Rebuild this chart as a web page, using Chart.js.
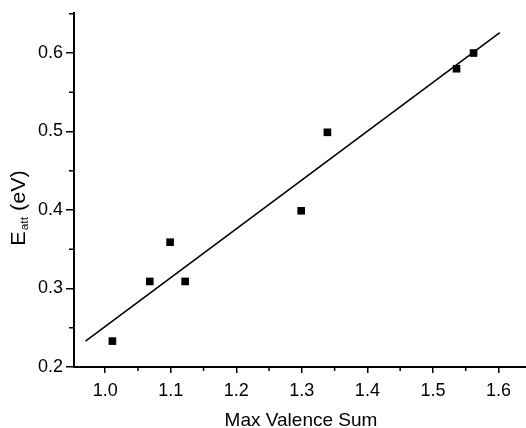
<!DOCTYPE html>
<html>
<head>
<meta charset="utf-8">
<script src="https://cdn.jsdelivr.net/npm/chart.js@4"></script>
<style>
  html, body { margin: 0; padding: 0; background: #fff; }
  #wrap { width: 526px; height: 428px; }
</style>
</head>
<body>
<div id="wrap"><canvas id="chart" width="526" height="428"></canvas></div>
<script>
// data
const valenceSum = [1.011, 1.068, 1.099, 1.122, 1.299, 1.339, 1.536, 1.562];
const eAtt = [0.233, 0.309, 0.359, 0.309, 0.399, 0.499, 0.58, 0.60];
const fitX = [0.970, 1.602];
const fitY = [0.233, 0.626];
const xTickLabels = ['1.0', '1.1', '1.2', '1.3', '1.4', '1.5', '1.6'];
const yTickLabels = ['0.2', '0.3', '0.4', '0.5', '0.6'];

const FONT = '"Liberation Sans", Arial, sans-serif';
const isMajor = v => Math.abs(v * 10 - Math.round(v * 10)) < 1e-6;
const isStep = v => Math.abs(v * 20 - Math.round(v * 20)) < 1e-6;
const fmt = v => v.toFixed(1);

// minor ticks (shorter) + y title with subscript + x title
const extras = {
    id: 'extras',
    afterDraw(chart) {
        const { ctx, scales: { x, y } } = chart;
        ctx.save();
        ctx.strokeStyle = '#000';
        ctx.lineWidth = 1.5;
        x.ticks.forEach(t => {
            if (isMajor(t.value) || !isStep(t.value)) return;
            const px = x.getPixelForValue(t.value);
            ctx.beginPath(); ctx.moveTo(px, x.top); ctx.lineTo(px, x.top + 4); ctx.stroke();
        });
        y.ticks.forEach(t => {
            if (isMajor(t.value) || !isStep(t.value)) return;
            const py = y.getPixelForValue(t.value);
            ctx.beginPath(); ctx.moveTo(y.right, py); ctx.lineTo(y.right - 5, py); ctx.stroke();
        });

        ctx.fillStyle = '#000';
        // x title
        ctx.font = `19px ${FONT}`;
        ctx.textAlign = 'center';
        ctx.textBaseline = 'alphabetic';
        ctx.fillText('Max Valence Sum', 301, 426);

        // y title "E_att (eV)"
        ctx.textAlign = 'left';
        const big = `20px ${FONT}`, small = `11px ${FONT}`;
        ctx.font = big; const wE = ctx.measureText('E').width; const wRest = ctx.measureText(' (eV)').width;
        ctx.font = small; const wSub = ctx.measureText('att').width;
        const total = wE + 1 + wSub + wRest;
        ctx.translate(25, 208);
        ctx.rotate(-Math.PI / 2);
        ctx.scale(1.08, 1);
        let cx = -total / 2;
        ctx.font = big; ctx.fillText('E', cx, 0); cx += wE + 1;
        ctx.font = small; ctx.fillText('att', cx, 3); cx += wSub;
        ctx.font = big; ctx.fillText(' (eV)', cx, 0);
        ctx.restore();
    }
};

new Chart(document.getElementById('chart'), {
    type: 'scatter',
    data: {
        datasets: [
            {
                label: 'data',
                data: valenceSum.map((v, i) => ({ x: v, y: eAtt[i] })),
                pointStyle: 'rect',
                pointRadius: 5.4,
                backgroundColor: '#000',
                borderWidth: 0,
                showLine: false
            },
            {
                label: 'fit',
                data: fitX.map((v, i) => ({ x: v, y: fitY[i] })),
                showLine: true,
                borderColor: '#000',
                borderWidth: 1.6,
                pointRadius: 0
            }
        ]
    },
    options: {
        responsive: false,
        animation: false,
        layout: { autoPadding: false, padding: { top: 13, right: 0, left: 0, bottom: 0 } },
        plugins: { legend: { display: false }, tooltip: { enabled: false } },
        scales: {
            x: {
                type: 'linear',
                min: 0.9524, max: 1.642,
                afterFit: s => { s.height = 61; s.paddingLeft = 0; s.paddingRight = 0; },
                border: { color: '#000', width: 2 },
                grid: {
                    drawOnChartArea: false, drawTicks: true, tickLength: 6, lineWidth: 1.5,
                    color: c => (c.tick && isMajor(c.tick.value) ? '#000' : 'rgba(0,0,0,0)')
                },
                ticks: {
                    stepSize: 0.05, includeBounds: false, padding: 7, color: '#000', maxRotation: 0, autoSkip: false,
                    font: { family: FONT, size: 18 },
                    callback: v => (isMajor(v) && xTickLabels.includes(fmt(v)) ? fmt(v) : '')
                }
            },
            y: {
                type: 'linear',
                min: 0.2, max: 0.651,
                afterFit: s => { s.width = 74; s.paddingTop = 0; s.paddingBottom = 0; },
                border: { color: '#000', width: 2 },
                grid: {
                    drawOnChartArea: false, drawTicks: true, tickLength: 8, lineWidth: 1.5,
                    color: c => (c.tick && isMajor(c.tick.value) ? '#000' : 'rgba(0,0,0,0)')
                },
                ticks: {
                    stepSize: 0.05, includeBounds: false, padding: 3, color: '#000', autoSkip: false,
                    font: { family: FONT, size: 18 },
                    callback: v => (isMajor(v) && yTickLabels.includes(fmt(v)) ? fmt(v) : '')
                }
            }
        }
    },
    plugins: [extras]
});
</script>
</body>
</html>
